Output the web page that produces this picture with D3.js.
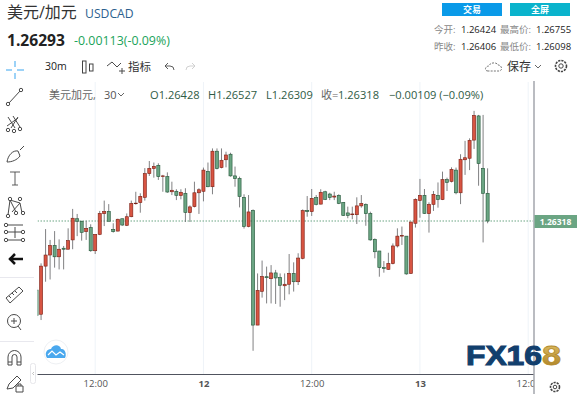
<!DOCTYPE html>
<html><head><meta charset="utf-8">
<script src="https://cdnjs.cloudflare.com/ajax/libs/d3/7.8.5/d3.min.js"></script>
<style>
html,body{margin:0;padding:0;background:#fff;overflow:hidden}
svg{display:block}
text{font-family:"Open Sans","Noto Sans CJK SC",sans-serif}
</style></head><body><svg id="c" width="577" height="394"></svg>
<script>
const opens=[1.26044,1.25948,1.26139,1.26183,1.26221,1.26176,1.26210,1.26206,1.26243,1.26327,
1.26317,1.26276,1.26292,1.26200,1.26265,1.26347,1.26356,1.26285,1.26278,1.26327,
1.26301,1.26335,1.26387,1.26391,1.26412,1.26506,1.26526,1.26539,1.26494,1.26494,
1.26434,1.26436,1.26419,1.26428,1.26351,1.26375,1.26430,1.26436,1.26515,1.26454,
1.26595,1.26530,1.26561,1.26583,1.26497,1.26487,1.26412,1.26296,1.26360,1.25905,
1.26039,1.26097,1.26089,1.26112,1.26094,1.26061,1.26067,1.26110,1.26077,1.26170,
1.26360,1.26355,1.26411,1.26385,1.26434,1.26425,1.26413,1.26420,1.26392,1.26350,
1.26343,1.26343,1.26378,1.26384,1.26348,1.26245,1.26199,1.26133,1.26126,1.26149,
1.26219,1.26258,1.26258,1.26110,1.26309,1.26399,1.26420,1.26347,1.26384,1.26420,
1.26403,1.26482,1.26475,1.26520,1.26430,1.26561,1.26567,1.26639,1.26735,1.26527,1.26428];
const highs=[1.26057,1.26150,1.26286,1.26243,1.26278,1.26245,1.26219,1.26289,1.26366,1.26346,
1.26319,1.26319,1.26305,1.26265,1.26358,1.26399,1.26385,1.26309,1.26327,1.26327,
1.26348,1.26399,1.26434,1.26428,1.26528,1.26556,1.26550,1.26547,1.26501,1.26511,
1.26474,1.26444,1.26444,1.26448,1.26380,1.26474,1.26448,1.26530,1.26550,1.26606,
1.26606,1.26606,1.26593,1.26589,1.26534,1.26494,1.26424,1.26421,1.26364,1.26110,
1.26161,1.26137,1.26143,1.26124,1.26110,1.26110,1.26187,1.26154,1.26190,1.26364,
1.26417,1.26445,1.26421,1.26444,1.26438,1.26430,1.26434,1.26424,1.26392,1.26375,
1.26375,1.26412,1.26421,1.26388,1.26355,1.26249,1.26199,1.26159,1.26192,1.26229,
1.26289,1.26296,1.26258,1.26314,1.26408,1.26485,1.26445,1.26392,1.26437,1.26471,
1.26514,1.26490,1.26531,1.26530,1.26583,1.26636,1.26646,1.26755,1.26739,1.26739,1.26527];
const lows=[1.25932,1.25925,1.26077,1.26086,1.26133,1.26126,1.26126,1.26206,1.26206,1.26258,
1.26240,1.26243,1.26196,1.26187,1.26262,1.26298,1.26317,1.26272,1.26277,1.26299,
1.26298,1.26333,1.26383,1.26351,1.26399,1.26497,1.26490,1.26481,1.26434,1.26430,
1.26421,1.26401,1.26404,1.26314,1.26314,1.26372,1.26346,1.26396,1.26452,1.26424,
1.26523,1.26527,1.26531,1.26494,1.26454,1.26372,1.26288,1.26293,1.25803,1.25905,
1.26014,1.25991,1.25991,1.25989,1.25978,1.26004,1.26027,1.26038,1.26064,1.26166,
1.26335,1.26338,1.26380,1.26384,1.26401,1.26401,1.26401,1.26385,1.26338,1.26329,
1.26325,1.26306,1.26371,1.26299,1.26240,1.26170,1.26097,1.26113,1.26124,1.26146,
1.26213,1.26223,1.26105,1.26108,1.26292,1.26331,1.26346,1.26272,1.26358,1.26371,
1.26401,1.26437,1.26471,1.26424,1.26385,1.26501,1.26520,1.26604,1.26458,1.26233,1.26309];
const closes=[1.25944,1.26139,1.26183,1.26221,1.26176,1.26206,1.26206,1.26240,1.26329,1.26317,
1.26273,1.26289,1.26200,1.26265,1.26348,1.26356,1.26317,1.26276,1.26325,1.26302,
1.26335,1.26388,1.26389,1.26416,1.26506,1.26527,1.26535,1.26494,1.26497,1.26433,
1.26440,1.26420,1.26432,1.26352,1.26374,1.26430,1.26442,1.26520,1.26454,1.26595,
1.26526,1.26559,1.26580,1.26497,1.26486,1.26415,1.26296,1.26354,1.25905,1.26043,
1.26098,1.26093,1.26112,1.26092,1.26063,1.26067,1.26110,1.26077,1.26171,1.26359,
1.26355,1.26408,1.26384,1.26432,1.26404,1.26411,1.26417,1.26388,1.26340,1.26340,
1.26346,1.26378,1.26388,1.26347,1.26243,1.26196,1.26133,1.26129,1.26150,1.26219,
1.26258,1.26261,1.26108,1.26314,1.26404,1.26420,1.26348,1.26384,1.26424,1.26403,
1.26482,1.26471,1.26523,1.26430,1.26563,1.26569,1.26638,1.26737,1.26546,1.26428,1.26318];
const firstIndex=-13;
const tickIndex=[0,24,48,72,96];
const tickLabels=["12:00","12","12:00","13","12:00"];
const legendItems=["O1.26428","H1.26527","L1.26309"];

const svg=d3.select("#c");
const L=37.5,R=533,T=82,B=374;
const x=d3.scaleLinear().domain([0,96]).range([95.2,528.2]);
const y=d3.scaleLinear().domain([1.257109,1.268696]).range([B,T]);
const defs=svg.append("defs");
defs.append("clipPath").attr("id","plot").append("rect").attr("x",L).attr("y",T).attr("width",R-L).attr("height",B-T);
defs.append("clipPath").attr("id","axc").append("rect").attr("x",L).attr("y",T).attr("width",R-L+1).attr("height",394-T);
const gold=defs.append("linearGradient").attr("id","gold").attr("x1",0).attr("x2",0).attr("y1",0).attr("y2",1);
gold.append("stop").attr("offset","0").attr("stop-color","#e3c36a");
gold.append("stop").attr("offset","1").attr("stop-color","#a87c1e");

// grid + time axis
const ax=svg.append("g").attr("clip-path","url(#axc)");
const axisG=ax.append("g").attr("transform",`translate(0,${B})`)
 .call(d3.axisBottom(x).tickValues(tickIndex).tickFormat((d,i)=>tickLabels[i]).tickSize(0).tickPadding(6));
axisG.select(".domain").remove();
axisG.selectAll("line").remove();
axisG.selectAll("text").attr("font-size",9.5).attr("fill","#555")
 .attr("font-weight",(d,i)=>i%2?700:400).style("font-family",'"Open Sans",sans-serif');
svg.insert("g",":first-child").selectAll("line").data(tickIndex).join("line")
 .attr("x1",d=>x(d)).attr("x2",d=>x(d)).attr("y1",T).attr("y2",B)
 .attr("stroke","#eef3f8").attr("stroke-width",1);

const bars=d3.range(opens.length).map(i=>({k:i+firstIndex,o:opens[i],h:highs[i],l:lows[i],c:closes[i]}));
const plot=svg.append("g").attr("clip-path","url(#plot)");
// last-price line
plot.append("line").attr("x1",L).attr("x2",R).attr("y1",y(closes[closes.length-1])).attr("y2",y(closes[closes.length-1]))
 .attr("stroke","#6ba583").attr("stroke-width",1).attr("stroke-dasharray","1.5 1.5");
plot.selectAll(".w").data(bars).join("line").attr("class","w")
 .attr("x1",d=>x(d.k)).attr("x2",d=>x(d.k)).attr("y1",d=>y(d.h)).attr("y2",d=>y(d.l))
 .attr("stroke","#737375").attr("stroke-width",0.9);
plot.selectAll(".b").data(bars).join("rect").attr("class","b")
 .attr("x",d=>x(d.k)-1.55).attr("width",3.1)
 .attr("y",d=>y(Math.max(d.o,d.c))).attr("height",d=>Math.max(0.6,Math.abs(y(d.o)-y(d.c))))
 .attr("fill",d=>d.c>=d.o?"#d75442":"#6ba583")
 .attr("stroke",d=>d.c>=d.o?"#7a1f14":"#225437").attr("stroke-width",0.6);

// axis rules
svg.append("line").attr("x1",L).attr("x2",R+1).attr("y1",B+.5).attr("y2",B+.5).attr("stroke","#50535e");
svg.append("line").attr("x1",534).attr("x2",534).attr("y1",T-1).attr("y2",394).attr("stroke","#a3a6ad").attr("stroke-width",1.5);

// price label
svg.append("rect").attr("x",534.5).attr("y",215).attr("width",43).attr("height",13).attr("fill","#6ba583");
svg.append("text").attr("x",555.5).attr("y",224.5).attr("text-anchor","middle").attr("font-size",8.5).attr("font-weight",700).attr("fill","#fff").text("1.26318");
function t(xp,yp,s,size,fill,o={}){const e=svg.append("text").attr("x",xp).attr("y",yp).attr("font-size",size).attr("fill",fill).text(s);
 for(const k in o)e.attr(k,o[k]);return e;}

// header
t(7,18,"美元/加元",16,"#333");
t(85,18,"USDCAD",12.2,"#2c5f8f");
t(7,46,"1.26293",15.6,"#222",{"font-weight":700});
t(74,45,"-0.00113(-0.09%)",12.4,"#1ba35a");
// toolbar
t(45,70,"30m",10.5,"#222");
t(128,71,"指标",11.5,"#333");
t(507,71,"保存",12,"#333");
// legend
t(49,99,"美元加元,",11,"#666");
t(104,99,"30",11,"#555");
const legG=[150,208,266];
legendItems.forEach((s,i)=>t(legG[i],99,s,11.1,"#2f5b45"));
t(321,99,"收=",11.1,"#666");
t(338,99,"1.26318",11.1,"#2f5b45");
t(389,99,"−0.00109 (−0.09%)",11.1,"#2f5b45");
// buttons
svg.append("rect").attr("x",442).attr("y",3).attr("width",60).attr("height",13).attr("fill","#0a9ae8");
svg.append("rect").attr("x",510).attr("y",3).attr("width",60).attr("height",13).attr("fill","#0ab3cc");
t(472,13,"交易",9,"#fff",{"text-anchor":"middle","font-weight":700});
t(540,13,"全屏",9,"#fff",{"text-anchor":"middle","font-weight":700});
// stats
[[33,"今开:","1.26424","最高价:","1.26755"],[50,"昨收:","1.26406","最低价:","1.26098"]].forEach(r=>{
 t(434,r[0],r[1],9.5,"#888");
 t(461,r[0],r[2],9.5,"#222");
 t(500,r[0],r[3],9.5,"#888");
 t(536,r[0],r[4],9.5,"#222");
});

// icons (furniture)
function p(d,o={}){const e=svg.append("path").attr("d",d).attr("fill","none").attr("stroke","#4a4a4a").attr("stroke-width",1);
 for(const k in o)e.attr(k,o[k]);return e;}
function dot(cx,cy,r=1.7){svg.append("circle").attr("cx",cx).attr("cy",cy).attr("r",r).attr("fill","#fff").attr("stroke","#4a4a4a");}
p("M6 70H12M17 70H24M15 61V67M15 73V79",{stroke:"#7cc4f5","stroke-width":1.5});
p("M9 103L20 91");dot(8,104);dot(21,90);
p("M8 117L15 128M13 116L20 127M18 117L11 128M7 126L18 118");dot(8,130);dot(14,131);dot(20,129);
p("M7 162C8 155 13 150 18 151L20 156C17 160 12 162 7 162ZM20 150L24 146");
p("M10 172H20M15 172V185M12 185H18",{"stroke-width":.9});
p("M10 200L8 215M10 200L16 212M10 200L20 203M20 203L22 213M20 203L12 212");dot(10,199);dot(20,199);dot(8,216);dot(16,213);dot(23,213);
p("M6 225H23M6 232H23M6 240H23M15 227V238");dot(6,225);dot(23,232);dot(6,240);dot(6,232);dot(23,240);
p("M9 259H23M15 254L10 259L15 264",{stroke:"#111","stroke-width":2.5});
svg.append("line").attr("x1",0).attr("x2",34).attr("y1",277.5).attr("y2",277.5).attr("stroke","#e8e8ee");
svg.append("line").attr("x1",0).attr("x2",34).attr("y1",341.5).attr("y2",341.5).attr("stroke","#e8e8ee");
p("M6 298L19 287L23 291L10 303ZM9 296L11 298M12 293L14 295M15 291L17 293");
p("M18 326L21 330");svg.append("circle").attr("cx",14).attr("cy",321).attr("r",6.5).attr("fill","none").attr("stroke","#4a4a4a");
p("M11 321H17M14 318V324");
p("M8 365V357A6.5 6.5 0 0 1 21 357V365H17V357A2.5 2.5 0 0 0 12 357V365ZM8 362H12M17 362H21");
p("M7 389L9 384L17 376L21 380L13 388ZM16 386H23V392H16ZM18 386V384H21V386");
svg.append("rect").attr("x",30.5).attr("y",363.5).attr("width",5).attr("height",20).attr("rx",2).attr("fill","#fff").attr("stroke","#e6e6ea");
p("M34 372L32.5 373.5L34 375",{stroke:"#aaa","stroke-width":.7});
// candle icon
svg.append("rect").attr("x",82.5).attr("y",61).attr("width",3.5).attr("height",12).attr("fill","#fff").attr("stroke","#444");
svg.append("rect").attr("x",89.5).attr("y",64).attr("width",3.5).attr("height",7).attr("fill","#fff").attr("stroke","#444");
// indicator icon
p("M107 66L112 62L117 67L121 63M119 71H125M122 68V74");
// undo / redo
p("M165 66H170Q174 66 174 70M165 66L168 63M165 66L168 69",{"stroke-width":.9});
p("M195 66H190Q186 66 186 70M195 66L192 63M195 66L192 69",{stroke:"#ccc","stroke-width":.9});
// cloud
p("M488 71C484 71 485 66 489 66C490 62 497 62 498 65C502 65 503 71 499 71Z",{stroke:"#777","stroke-dasharray":"2 1.2"});
p("M535 65L538 68L541 65",{stroke:"#666"});
// gears
function gear(cx,cy,r){svg.append("circle").attr("cx",cx).attr("cy",cy).attr("r",r).attr("fill","none").attr("stroke","#444").attr("stroke-width",1.6).attr("stroke-dasharray","2.2 1");
 svg.append("circle").attr("cx",cx).attr("cy",cy).attr("r",r*.4).attr("fill","none").attr("stroke","#444");}
gear(561,66,5.5);gear(555,387,4.5);
p("M118 93L121 96L124 93",{stroke:"#666"});
// cloud badge
svg.append("circle").attr("cx",56).attr("cy",352).attr("r",12).attr("fill","#fff").attr("stroke","#eef0f3");
svg.append("path").attr("d","M47 358C44 353 47 349 51 349C53 344 60 344 61 349C65 348 67 354 65 358Z").attr("fill","#4aa8ee");
p("M48 355L52 351L56 355L60 352L64 355",{stroke:"#fff","stroke-width":1.2});
// watermark
t(466,365,"FX16",28,"#123f6d",{"font-weight":900,"textLength":76,"lengthAdjust":"spacingAndGlyphs",stroke:"#123f6d","stroke-width":1.1}).style("font-family",'"Liberation Sans",sans-serif');
t(542,365,"8",28,"url(#gold)",{"font-weight":900,"textLength":19,"lengthAdjust":"spacingAndGlyphs",stroke:"#b48c2e","stroke-width":.8}).style("font-family",'"Liberation Sans",sans-serif');
</script></body></html>
